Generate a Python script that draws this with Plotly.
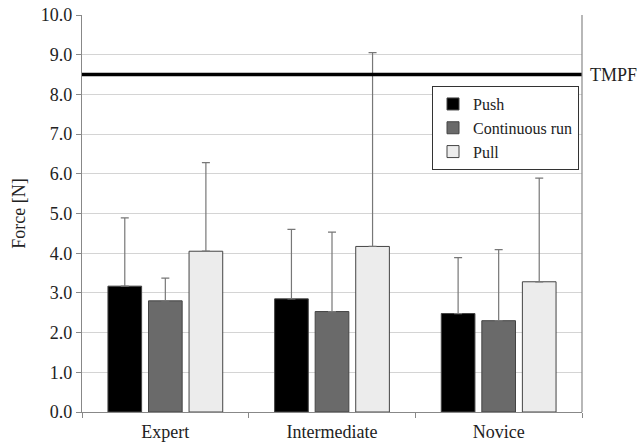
import plotly.graph_objects as go

categories = ["Expert", "Intermediate", "Novice"]
series_names = ["Push", "Continuous run", "Pull"]
push = [3.17, 2.85, 2.48]
cont_run = [2.80, 2.53, 2.30]
pull = [4.05, 4.17, 3.28]
push_sd = [1.72, 1.75, 1.41]
cont_run_sd = [0.57, 2.00, 1.79]
pull_sd = [2.23, 4.88, 2.61]
tmpf = 8.5
y_ticks = [0, 1, 2, 3, 4, 5, 6, 7, 8, 9, 10]

colors = ["#000000", "#6a6a6a", "#ececec"]
values = [push, cont_run, pull]
sds = [push_sd, cont_run_sd, pull_sd]

FONT = "Liberation Serif, serif"
fig = go.Figure()
for name, v, sd, c in zip(series_names, values, sds, colors):
    fig.add_trace(go.Bar(
        x=categories, y=v, name=name,
        marker=dict(color=c, line=dict(color="#444444", width=1)),
        error_y=dict(type="data", array=sd, symmetric=False, arrayminus=[0]*len(sd),
                     color="#777777", thickness=1.2, width=4),
    ))

fig.add_shape(type="line", xref="paper", x0=0, x1=1, yref="y", y0=tmpf, y1=tmpf,
              line=dict(color="#000000", width=3.5))
fig.add_annotation(xref="paper", x=1, yref="y", y=tmpf, text="TMPF", showarrow=False,
                   xanchor="left", xshift=6, font=dict(family=FONT, size=18, color="#222222"))

fig.update_layout(
    width=639, height=444,
    margin=dict(l=82, r=57, t=15, b=32),
    paper_bgcolor="white", plot_bgcolor="white",
    barmode="group", bargap=0.27, bargroupgap=0.17,
    font=dict(family=FONT, size=18, color="#222222"),
    showlegend=True,
    legend=dict(x=0.70, y=0.821, xanchor="left", yanchor="top",
                bgcolor="white", bordercolor="#333333", borderwidth=1,
                font=dict(family=FONT, size=16, color="#222222"),
                itemwidth=30, tracegroupgap=0),
    xaxis=dict(showline=True, linecolor="#888888", linewidth=1.2, mirror=False,
               ticks="outside", tickson="boundaries", ticklen=5, tickcolor="#888888",
               showgrid=False, tickfont=dict(family=FONT, size=18), automargin=False,
               ticklabelstandoff=3),
    yaxis=dict(range=[0, 10], tickvals=y_ticks, tickformat=".1f",
               showline=True, linecolor="#888888", linewidth=1.2,
               ticks="outside", ticklen=5, tickcolor="#888888",
               showgrid=True, gridcolor="#d4d4d4", gridwidth=1.2,
               title=dict(text="Force [N]", font=dict(family=FONT, size=18), standoff=10),
               tickfont=dict(family=FONT, size=18), zeroline=False, automargin=False),
)
fig.add_shape(type="line", xref="paper", x0=1, x1=1, yref="paper", y0=0, y1=1,
              line=dict(color="#888888", width=1.2))
fig.write_html("out.html", config={"displayModeBar": False},
               post_script="document.body.style.margin='0';document.body.style.padding='0';")
